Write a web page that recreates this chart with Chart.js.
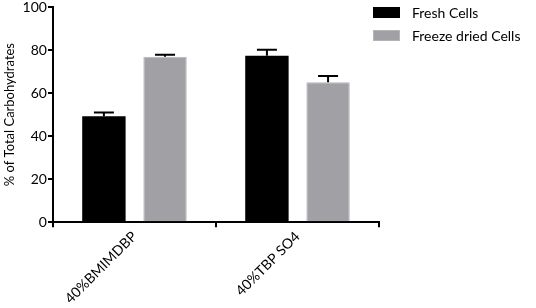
<!DOCTYPE html>
<html>
<head>
<meta charset="utf-8">
<script src="https://cdn.jsdelivr.net/npm/chart.js@4/dist/chart.umd.min.js"></script>
<style>
html,body{margin:0;padding:0;background:#fff;}
#wrap{width:536px;height:308px;position:relative;}
</style>
</head>
<body>
<div id="wrap"><canvas id="c" width="536" height="308"></canvas></div>
<script>
const categories = ["40%BMIMDBP", "40%TBP SO4"];
const seriesNames = ["Fresh Cells", "Freeze dried Cells"];
const freshValues = [49.3, 77.3];
const freshErrors = [1.7, 2.8];
const freezeValues = [76.9, 65.0];
const freezeErrors = [0.9, 3.0];
const yTicks = [0, 20, 40, 60, 80, 100];

const errorBarPlugin = {
  id: 'errorBars',
  afterDatasetsDraw(chart) {
    const ctx = chart.ctx;
    const yScale = chart.scales.y;
    chart.data.datasets.forEach((ds, di) => {
      const meta = chart.getDatasetMeta(di);
      meta.data.forEach((bar, i) => {
        const v = ds.data[i];
        const e = ds.errors[i];
        const yTop = yScale.getPixelForValue(v + e);
        const yBase = yScale.getPixelForValue(v);
        ctx.save();
        ctx.strokeStyle = '#000';
        ctx.lineWidth = 2;
        ctx.beginPath();
        ctx.moveTo(bar.x, yBase);
        ctx.lineTo(bar.x, yTop);
        ctx.moveTo(bar.x - 10, yTop);
        ctx.lineTo(bar.x + 10, yTop);
        ctx.stroke();
        ctx.restore();
      });
    });
  }
};

const sideLegendPlugin = {
  id: 'sideLegend',
  afterDraw(chart) {
    const ctx = chart.ctx;
    const area = chart.chartArea;
    const x0 = area.right - 6;
    ctx.save();
    ctx.font = '14px Lato';
    ctx.textBaseline = 'middle';
    chart.data.datasets.forEach((ds, i) => {
      const yTop = area.top + i * 23;
      ctx.fillStyle = ds.backgroundColor;
      ctx.fillRect(x0, yTop, 27, 11);
      if (ds.borderWidth) {
        ctx.strokeStyle = ds.borderColor;
        ctx.lineWidth = 1;
        ctx.strokeRect(x0 + 0.5, yTop + 0.5, 26, 10);
      }
      ctx.fillStyle = '#000';
      ctx.fillText(ds.label, x0 + 39, yTop + 6);
    });
    ctx.restore();
  }
};

new Chart(document.getElementById('c'), {
  type: 'bar',
  data: {
    labels: categories,
    datasets: [
      { label: seriesNames[0], data: freshValues, errors: freshErrors, backgroundColor: '#000000', borderColor: '#000000', borderWidth: 0 },
      { label: seriesNames[1], data: freezeValues, errors: freezeErrors, backgroundColor: '#a1a1a5', borderColor: '#b5b5b8', borderWidth: 1 }
    ]
  },
  options: {
    responsive: false,
    animation: false,
    devicePixelRatio: 1,
    categoryPercentage: 0.75,
    barPercentage: 0.71,
    layout: { padding: { top: 7, left: 2, right: 157, bottom: 0 } },
    plugins: {
      legend: { display: false },
      tooltip: { enabled: false }
    },
    scales: {
      x: {
        grid: { drawOnChartArea: false, drawTicks: true, tickLength: 5, color: '#000', lineWidth: 2 },
        border: { display: true, color: '#000', width: 2 },
        ticks: { color: '#000', maxRotation: 45, minRotation: 45, font: { family: 'Lato', size: 14 }, padding: 1 }
      },
      y: {
        min: 0,
        max: 100,
        afterBuildTicks(axis) { axis.ticks = yTicks.map(v => ({ value: v })); },
        afterFit(axis) { axis.paddingTop = 0; },
        grid: { drawOnChartArea: false, drawTicks: true, tickLength: 5, color: '#000', lineWidth: 2 },
        border: { display: true, color: '#000', width: 2 },
        ticks: { color: '#000', font: { family: 'Lato', size: 14 }, padding: 1 },
        title: { display: true, text: '% of Total Carbohydrates', color: '#000', font: { family: 'Lato', size: 13 }, padding: { top: 0, bottom: 4 } }
      }
    }
  },
  plugins: [errorBarPlugin, sideLegendPlugin]
});
</script>
</body>
</html>
